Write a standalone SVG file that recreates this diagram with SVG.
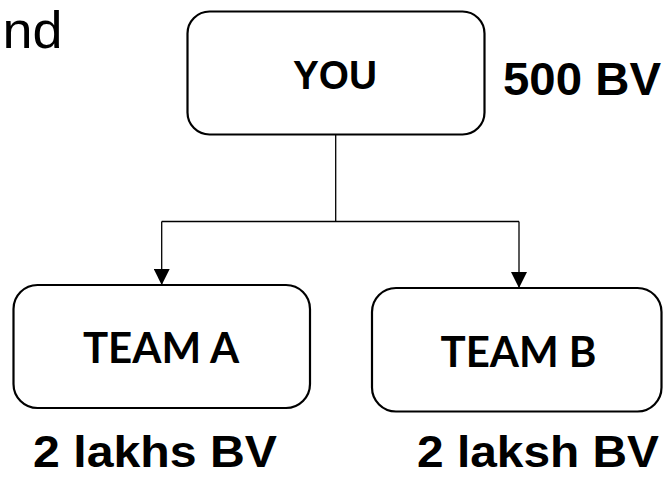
<svg xmlns="http://www.w3.org/2000/svg" width="664" height="477" viewBox="0 0 664 477">
<style>
.box{fill:#fff;stroke:#000;stroke-width:2.2}
.lbl{font-family:"Lato","Liberation Sans",sans-serif;font-weight:700;font-size:42px;fill:#000;text-anchor:middle}
.big{font-family:"Liberation Sans",Arial,sans-serif;font-weight:700;font-size:45px;fill:#000}
.conn{fill:none;stroke:#000;stroke-width:1.3}
</style>
<defs>
<marker id="arr" viewBox="0 0 16 16" refX="16" refY="8" markerWidth="16" markerHeight="16" markerUnits="userSpaceOnUse" orient="auto">
<path d="M0,0 L16,8 L0,16 Z" fill="#000"/>
</marker>
</defs>
<rect width="664" height="477" fill="#fff"/>
<text x="2.5" y="47.5" style="font-family:'Liberation Sans',Arial,sans-serif;font-size:52px;fill:#000" textLength="60" lengthAdjust="spacingAndGlyphs">nd</text>
<g id="connectors">
<path class="conn" d="M335.7,134 V221.5"/>
<path class="conn" d="M161.7,221.5 H519"/>
<path class="conn" d="M161.7,221.5 V285" marker-end="url(#arr)"/>
<path class="conn" d="M519,221.5 V288" marker-end="url(#arr)"/>
</g>
<g id="you">
<rect class="box" x="187.5" y="11.5" width="297" height="123" rx="22"/>
<text class="lbl" x="335" y="89" style="font-family:'Liberation Sans',Arial,sans-serif;font-size:41px" textLength="84" lengthAdjust="spacingAndGlyphs">YOU</text>
</g>
<g id="teamA">
<rect class="box" x="13.5" y="285" width="296.5" height="123" rx="24"/>
<text class="lbl" x="161" y="363">TEAM A</text>
</g>
<g id="teamB">
<rect class="box" x="372" y="288" width="289.5" height="123.5" rx="24"/>
<text class="lbl" x="518.5" y="366.5">TEAM B</text>
</g>
<text class="big" x="503" y="95" style="font-size:46px" textLength="158" lengthAdjust="spacingAndGlyphs">500 BV</text>
<text class="big" x="33" y="467" textLength="244" lengthAdjust="spacingAndGlyphs">2 lakhs BV</text>
<text class="big" x="417" y="467" textLength="242" lengthAdjust="spacingAndGlyphs">2 laksh BV</text>
</svg>
